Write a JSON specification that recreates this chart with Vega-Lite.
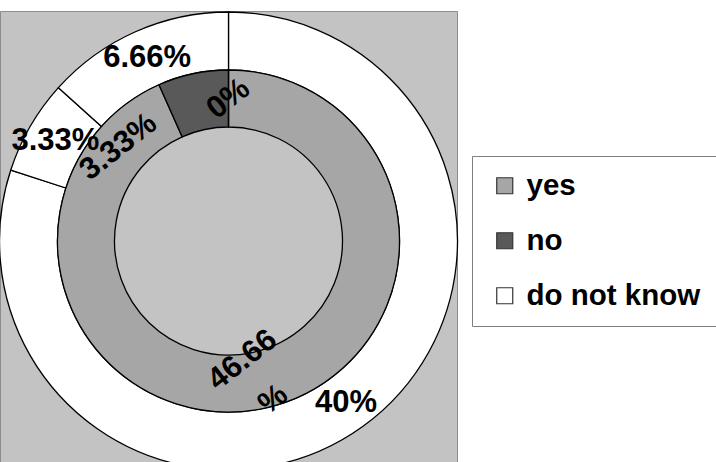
{
  "$schema": "https://vega.github.io/schema/vega-lite/v6.json",
  "autosize": {"type": "none"},
  "width": 457,
  "height": 460,
  "padding": {"left": 0, "top": 11, "right": 259, "bottom": 0},
  "background": "white",
  "view": {"fill": "#c3c3c3", "stroke": "#8c8c8c", "strokeWidth": 1},
  "datasets": {
    "outer": [
      {"category": "yes", "value": 40, "label": "40%", "rank": 1},
      {"category": "no", "value": 3.33, "label": "3.33%", "rank": 2},
      {"category": "do not know", "value": 6.66, "label": "6.66%", "rank": 3}
    ],
    "inner": [
      {"category": "yes", "value": 46.66, "label": "46.66\n%", "rank": 1},
      {"category": "no", "value": 3.33, "label": "3.33%", "rank": 2},
      {"category": "do not know", "value": 0, "label": "0%", "rank": 3}
    ]
  },
  "layer": [
    {
      "data": {"name": "outer"},
      "mark": {"type": "arc", "radius": 229, "radius2": 171, "fill": "white", "stroke": "black", "strokeWidth": 1.3},
      "encoding": {
        "theta": {"field": "value", "type": "quantitative", "stack": true},
        "order": {"field": "rank", "type": "quantitative"}
      }
    },
    {
      "data": {"name": "inner"},
      "mark": {"type": "arc", "radius": 171, "radius2": 114, "stroke": "black", "strokeWidth": 1.3},
      "encoding": {
        "theta": {"field": "value", "type": "quantitative", "stack": true},
        "order": {"field": "rank", "type": "quantitative"},
        "color": {
          "field": "category",
          "type": "nominal",
          "scale": {"domain": ["yes", "no", "do not know"], "range": ["#a6a6a6", "#595959", "#ffffff"]},
          "legend": {
            "title": null,
            "orient": "none",
            "legendX": 472,
            "legendY": 145,
            "fillColor": "white",
            "strokeColor": "#7f7f7f",
            "padding": 15,
            "symbolOffset": 3,
            "symbolType": "square",
            "symbolSize": 256,
            "symbolStrokeColor": "#333333",
            "symbolStrokeWidth": 1.2,
            "labelFont": "Liberation Sans",
            "labelFontSize": 29.5,
            "labelFontWeight": "bold",
            "labelColor": "black",
            "labelOffset": 7,
            "labelLimit": 400,
            "rowPadding": 24
          }
        }
      }
    },
    {
      "data": {"name": "outer"},
      "mark": {"type": "text", "radius": 200, "font": "Liberation Sans", "fontSize": 31, "fontWeight": "bold", "fill": "black"},
      "encoding": {
        "theta": {"field": "value", "type": "quantitative", "stack": true},
        "order": {"field": "rank", "type": "quantitative"},
        "text": {"field": "label"}
      }
    },
    {
      "data": {"name": "inner"},
      "mark": {"type": "text", "radius": 142, "angle": 322, "lineBreak": "\n", "lineHeight": 50, "dy": -25, "font": "Liberation Sans", "fontSize": 31, "fontWeight": "bold", "fill": "black"},
      "encoding": {
        "theta": {"field": "value", "type": "quantitative", "stack": true},
        "order": {"field": "rank", "type": "quantitative"},
        "text": {"condition": {"test": "datum.category !== 'yes'", "value": ""}, "field": "label"}
      }
    },
    {
      "data": {"name": "inner"},
      "mark": {"type": "text", "radius": 142, "angle": 322, "font": "Liberation Sans", "fontSize": 31, "fontWeight": "bold", "fill": "black"},
      "encoding": {
        "theta": {"field": "value", "type": "quantitative", "stack": true},
        "order": {"field": "rank", "type": "quantitative"},
        "text": {"condition": {"test": "datum.category !== 'do not know'", "value": ""}, "field": "label"}
      }
    },
    {
      "data": {"name": "inner"},
      "mark": {"type": "text", "radius": 142, "angle": 322, "dx": -91, "dy": -14, "font": "Liberation Sans", "fontSize": 31, "fontWeight": "bold", "fill": "black"},
      "encoding": {
        "theta": {"field": "value", "type": "quantitative", "stack": true},
        "order": {"field": "rank", "type": "quantitative"},
        "text": {"condition": {"test": "datum.category !== 'no'", "value": ""}, "field": "label"}
      }
    }
  ]
}
